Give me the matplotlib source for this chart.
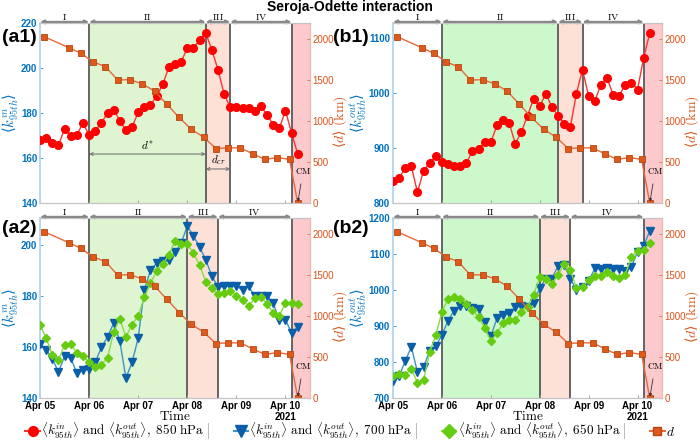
import numpy as np
import matplotlib
matplotlib.use("Agg")
import matplotlib.pyplot as plt
from matplotlib.lines import Line2D

plt.rcParams['mathtext.fontset'] = 'cm'
plt.rcParams['font.family'] = ['Liberation Sans', 'DejaVu Sans']

# ---------------- data ----------------
# time in days since Apr 05 00:00 (3-hourly)
t_days = np.arange(43) * 3 / 24.0
# distance d times (hours since Apr 05 00:00) and values (km)
d_hours = [2, 14, 20, 26, 32, 38, 44, 50, 56, 62, 68, 74, 80, 86, 92, 98, 104, 110, 116, 122, 126]
d_km = [2033, 1900, 1829, 1725, 1666, 1503, 1507, 1456, 1368, 1208, 1045, 900, 805, 666, 674, 674,
        601, 532, 556, 532, 0]

kin_850 = [167.9, 168.9, 166.7, 165.6, 172.9, 169.9, 170.2, 175.6, 170.1, 172.1, 175.6, 180.0, 181.5,
           176.6, 172.3, 173.8, 180.3, 182.5, 183.6, 187.4, 192.7, 200.4, 201.6, 202.7, 208.9, 208.7,
           212.6, 215.6, 208.1, 199.3, 188.4, 182.5, 182.5, 182.2, 182.2, 180.7, 183.0, 179.3, 174.8,
           173.2, 181.0, 171.1, 161.8]
kout_850 = [840.6, 845.5, 863.6, 866.7, 819.4, 858.8, 872.7, 884.8, 873.9, 870.9, 866.7, 866.7, 872.7,
            893.9, 898.8, 910.3, 910.3, 941.2, 950.3, 945.5, 907.9, 929.1, 958.8, 989.1, 975.8, 998.8,
            973.9, 958.8, 944.2, 937.6, 998.8, 1042.4, 993.9, 984.8, 1015.2, 1027.3, 997.0, 995.2,
            1015.2, 1018.2, 1006.1, 1063.6, 1109.1]
kin_700 = [161.3, 158.9, 155.4, 150.2, 156.3, 155.7, 149.8, 150.8, 151.3, 154.0, 159.8, 163.9, 169.3,
           162.4, 147.8, 154.0, 163.5, 182.4, 190.0, 192.8, 193.5, 193.9, 197.0, 200.6, 207.4, 203.5,
           199.3, 194.1, 187.9, 183.4, 183.7, 183.7, 183.7, 182.4, 183.7, 179.8, 180.0, 180.0, 177.2,
           170.4, 170.7, 165.4, 168.0]
kin_650 = [168.7, 163.5, 157.0, 154.7, 160.9, 161.3, 157.6, 156.3, 154.0, 152.0, 153.0, 155.7, 165.7,
           171.0, 163.9, 168.7, 172.2, 179.4, 185.0, 189.6, 192.4, 196.1, 201.3, 200.3, 200.3, 196.7,
           192.2, 185.6, 183.0, 180.7, 181.1, 182.0, 180.0, 178.5, 175.9, 179.1, 179.5, 176.9, 173.3,
           172.2, 177.2, 177.2, 176.9]
kout_700 = [746.7, 760.7, 802.8, 842.1, 772.0, 786.0, 830.8, 844.9, 874.8, 915.0, 943.0, 955.1, 955.1,
            949.5, 947.7, 910.3, 871.0, 921.5, 930.8, 935.5, 952.3, 955.1, 952.3, 964.5, 1005.6, 1031.8,
            1031.8, 1067.3, 1069.2, 1031.8, 999.1, 1008.4, 1024.3, 1059.8, 1057.0, 1061.7, 1057.0,
            1057.0, 1052.3, 1064.5, 1106.5, 1122.4, 1164.5]
kout_650 = [760.7, 767.3, 763.6, 781.3, 742.1, 749.5, 828.0, 874.8, 938.3, 975.7, 980.4, 975.7, 961.7,
            945.8, 924.3, 893.5, 858.9, 879.4, 908.4, 917.8, 916.8, 940.2, 952.3, 986.9, 1036.4, 1029.9,
            1017.8, 1043.0, 1071.0, 1055.1, 1005.6, 1008.4, 1027.1, 1039.3, 1039.3, 1050.5, 1039.3,
            1034.6, 1043.0, 1092.5, 1108.4, 1111.2, 1129.9]

# stage boundaries (days) for row 1 (850 hPa) and row 2 (700/650 hPa)
bounds_row1 = [0.0, 1.0, 3.375, 3.875, 5.125]
bounds_row2 = [0.0, 1.0, 3.0, 3.625, 5.125]
stage_names = ['I', 'II', 'III', 'IV']
xtick_pos = [0, 1, 2, 3, 4, 5]
xtick_labels = ['Apr 05', 'Apr 06', 'Apr 07', 'Apr 08', 'Apr 09', 'Apr 10']

# ---------------- style ----------------
BLUE = (0, 0.447, 0.741)
ORANGE = (0.85, 0.325, 0.098)
C_RED_M = '#ff0000'
C_RED_L = '#ff3333'
C_BLUE_M = '#0a5fa8'
C_BLUE_L = '#3a94c4'
C_GREEN_M = '#66cc11'
C_GREEN_L = '#88dd44'
C_SQ_F = '#dd5a1a'
C_SQ_E = '#b8460f'
C_SQ_L = '#e8683a'

fig = plt.figure(figsize=(7.0, 4.42), dpi=100)

pos = {
    'a1': [40/700, 1-203/442, 270/700, 180/442],
    'b1': [393/700, 1-203/442, 269/700, 180/442],
    'a2': [40/700, 1-398/442, 270/700, 180/442],
    'b2': [393/700, 1-398/442, 269/700, 180/442],
}

d_days = np.array(d_hours) / 24.0
BRK_FAMILY = ['DejaVu Sans']


def make_panel(key, bounds, green, series, ylim, yticks, ylab, bottom, lab_x):
    ax = fig.add_axes(pos[key])
    ax.set_xlim(0, 5.5)
    ax.set_ylim(*ylim)
    # shading
    ax.axvspan(bounds[1], bounds[2], color=green, zorder=0, lw=0)
    ax.axvspan(bounds[2], bounds[3], color='#fde0d6', zorder=0, lw=0)
    ax.axvspan(bounds[4], 5.5, color='#fcc9cd', zorder=0, lw=0)
    for b in bounds[1:]:
        ax.axvline(b, color='#5a5a5a', lw=1.3, zorder=1)
    for (vals, lc, mc, mk, ms) in series:
        ax.plot(t_days, vals, color=lc, lw=1.0, marker=mk, ms=ms, mfc=mc, mec=mc, zorder=3)
    ax.set_yticks(yticks)
    ax.tick_params(axis='y', colors=BLUE, labelsize=7, direction='in', length=2, width=0.5, pad=2)
    for lab in ax.get_yticklabels():
        lab.set_fontweight('bold')
    ax.set_xticks(xtick_pos)
    ax.tick_params(axis='x', direction='in', length=2.5, width=0.6, colors='#999999',
                   labelcolor='black', labelsize=7, pad=2.5)
    if bottom:
        ax.set_xticklabels(xtick_labels, fontweight='bold')
        ax.text(5.0, -0.078, '2021', transform=ax.get_xaxis_transform(), ha='center', va='top',
                fontsize=7, fontweight='bold')
        ax.set_xlabel(r'$\mathrm{Time}$', fontsize=9.5, labelpad=-1)
    else:
        ax.set_xticklabels([])
    ax.set_ylabel(ylab, color=BLUE, fontsize=10.5, family=BRK_FAMILY)
    ax.yaxis.set_label_coords(lab_x, 0.5)
    ax.spines['left'].set_color('#b3d6f0')
    ax.spines['left'].set_linewidth(1.3)
    ax.spines['bottom'].set_color('#c4c4c4')
    ax.spines['top'].set_color('#c4c4c4')
    ax.spines['right'].set_color('#c4c4c4')

    # stage arrows on top
    for i in range(4):
        x0, x1 = bounds[i], bounds[i+1]
        ax.annotate('', xy=(x1, 1.006), xytext=(x0, 1.006),
                    xycoords=('data', 'axes fraction'), textcoords=('data', 'axes fraction'),
                    arrowprops=dict(arrowstyle='<->', color='#888888', lw=1.6, shrinkA=0, shrinkB=0,
                                    mutation_scale=5), annotation_clip=False)
        ax.text((x0 + x1) / 2, 1.033, r'$\mathrm{' + stage_names[i] + '}$', transform=ax.get_xaxis_transform(),
                ha='center', va='center', fontsize=7)

    # right axis: distance
    ax2 = ax.twinx()
    ax2.set_ylim(0, 2200)
    ax2.set_yticks([0, 500, 1000, 1500, 2000])
    ax2.plot(d_days, d_km, color=C_SQ_L, lw=1.0, marker='s', ms=4, mfc=C_SQ_F, mec=C_SQ_E,
             mew=0.6, zorder=2)
    ax2.tick_params(axis='y', colors=ORANGE, labelsize=7, direction='in', length=2, width=0.5, pad=2)
    ax2.set_ylabel('\u27e8$d$\u27e9 $\\mathrm{(km)}$', color=ORANGE, fontsize=10, family=BRK_FAMILY)
    ax2.yaxis.set_label_coords(1.08, 0.45)
    ax2.spines['right'].set_color('#f2b9a6')
    ax2.spines['left'].set_visible(False)
    ax2.spines['top'].set_color('#c4c4c4')
    ax2.spines['bottom'].set_color('#c4c4c4')
    ax2.annotate(r'$\mathrm{CM}$', xy=(d_days[-1], 0), xytext=(5.36, 0.18),
                 xycoords='data', textcoords=('data', 'axes fraction'),
                 ha='center', va='center', fontsize=6.5,
                 arrowprops=dict(arrowstyle='-|>', color='#333333', lw=0.6, mutation_scale=4,
                                 shrinkA=4, shrinkB=1))
    return ax, ax2


ylab_in = '\u27e8$k^{in}_{95th}$\u27e9'
ylab_out = '\u27e8$k^{out}_{95th}$\u27e9'

ax_a1, _ = make_panel('a1', bounds_row1, '#dff5d2',
                      [(kin_850, C_RED_L, C_RED_M, 'o', 5.5)],
                      (140, 220), [140, 160, 180, 200, 220], ylab_in, False, -0.071)
ax_b1, _ = make_panel('b1', bounds_row1, '#ccf8cc',
                      [(kout_850, C_RED_L, C_RED_M, 'o', 5.5)],
                      (800, 1127), [800, 900, 1000, 1100], ylab_out, False, -0.09)
ax_a2, _ = make_panel('a2', bounds_row2, '#dff5d2',
                      [(kin_700, C_BLUE_L, C_BLUE_M, 'v', 5.5), (kin_650, C_GREEN_L, C_GREEN_M, 'D', 4.5)],
                      (140, 210.5), [140, 160, 180, 200], ylab_in, True, -0.071)
ax_b2, _ = make_panel('b2', bounds_row2, '#ccf8cc',
                      [(kout_700, C_BLUE_L, C_BLUE_M, 'v', 5.5), (kout_650, C_GREEN_L, C_GREEN_M, 'D', 4.5)],
                      (700, 1200), [700, 800, 900, 1000, 1100, 1200], ylab_out, True, -0.09)

# d* and d_cr annotations in a1
a1b = bounds_row1
ax_a1.annotate('', xy=(a1b[2], 0.272), xytext=(a1b[1], 0.272), xycoords=('data', 'axes fraction'),
               arrowprops=dict(arrowstyle='<->', color='#777777', lw=0.8, shrinkA=0, shrinkB=0,
                               mutation_scale=5))
ax_a1.text((a1b[1] + a1b[2]) / 2, 0.285, r'$d^{*}$', transform=ax_a1.get_xaxis_transform(),
           ha='center', va='bottom', fontsize=8)
ax_a1.annotate('', xy=(a1b[3], 0.189), xytext=(a1b[2], 0.189), xycoords=('data', 'axes fraction'),
               arrowprops=dict(arrowstyle='<->', color='#777777', lw=0.8, shrinkA=0, shrinkB=0,
                               mutation_scale=5))
ax_a1.text((a1b[2] + a1b[3]) / 2, 0.2, r'$d_{cr}$', transform=ax_a1.get_xaxis_transform(),
           ha='center', va='bottom', fontsize=8)

# panel labels
for txt, x, y in [('(a1)', 2, 38), ('(b1)', 333, 38), ('(a2)', 2, 228), ('(b2)', 333, 228)]:
    fig.text(x / 700, 1 - y / 442, txt, fontsize=14, fontweight='bold', ha='left', va='center')

fig.text(0.5, 1.0, 'Seroja-Odette interaction', fontsize=10, fontweight='bold',
         ha='center', va='top')

# legend
handles = [
    Line2D([], [], color=C_RED_L, marker='o', ms=7, mfc=C_RED_M, mec=C_RED_M, lw=1.5),
    Line2D([], [], color=C_BLUE_L, marker='v', ms=8, mfc=C_BLUE_M, mec=C_BLUE_M, lw=1.5),
    Line2D([], [], color=C_GREEN_L, marker='D', ms=7, mfc=C_GREEN_M, mec=C_GREEN_M, lw=1.5),
    Line2D([], [], color=C_SQ_L, marker='s', ms=6, mfc=C_SQ_F, mec=C_SQ_E, lw=1.5),
]
labels = [
    r'$\langle k^{in}_{95th}\rangle\ \mathrm{and}\ \langle k^{out}_{95th}\rangle,\ 850\ \mathrm{hPa}$',
    r'$\langle k^{in}_{95th}\rangle\ \mathrm{and}\ \langle k^{out}_{95th}\rangle,\ 700\ \mathrm{hPa}$',
    r'$\langle k^{in}_{95th}\rangle\ \mathrm{and}\ \langle k^{out}_{95th}\rangle,\ 650\ \mathrm{hPa}$',
    r'$d$',
]
leg = fig.legend(handles, labels, loc='center', bbox_to_anchor=(0.5, 1 - 431 / 442), ncol=4,
                 frameon=False, fontsize=9.5, handlelength=1.1, handletextpad=0.1,
                 columnspacing=2.2, borderpad=0.1)

# thin separators between legend entries, like the reference
fig.canvas.draw()
renderer = fig.canvas.get_renderer()
texts = leg.get_texts()
for tx in texts[:3]:
    bb = tx.get_window_extent(renderer)
    xs = (bb.x1 + 3) / fig.bbox.width
    fig.add_artist(Line2D([xs, xs], [(1 - 438 / 442), (1 - 423 / 442)], color='#bbbbbb', lw=0.7,
                          transform=fig.transFigure))

fig.savefig('out.png', dpi=100)
